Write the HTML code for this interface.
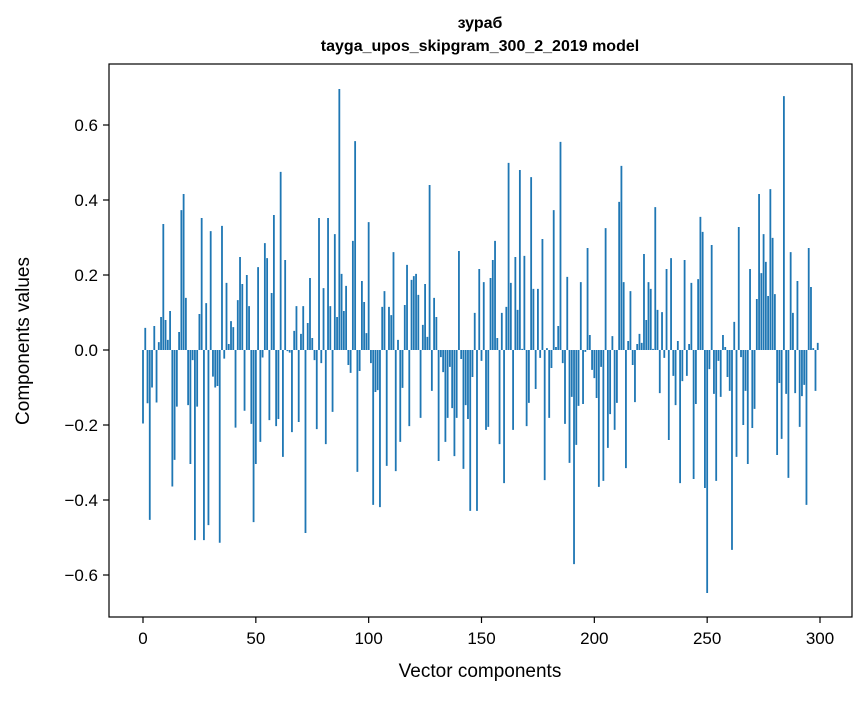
<!DOCTYPE html>
<html><head><meta charset="utf-8"><style>
body{margin:0;background:#fff;}
svg text{font-family:"Liberation Sans","DejaVu Sans",sans-serif;}
</style></head><body>
<svg id="chart" width="867" height="696" viewBox="0 0 867 696" xmlns="http://www.w3.org/2000/svg">
<rect width="867" height="696" fill="#fff"/>
<text x="480" y="28" text-anchor="middle" font-size="16" font-weight="bold">зураб</text>
<text x="480" y="51" text-anchor="middle" font-size="16" font-weight="bold">tayga_upos_skipgram_300_2_2019 model</text>
<g id="bars"></g>
<rect x="109" y="64" width="743" height="553" fill="none" stroke="#000" stroke-width="1.2"/>
<g id="xticks"></g>
<g id="yticks"></g>
<text x="480" y="677" text-anchor="middle" font-size="19">Vector components</text>
<text transform="translate(29,341) rotate(-90)" text-anchor="middle" font-size="19">Components values</text>
</svg>
<script>
const values = [
-0.196,0.059,-0.142,-0.453,-0.10,0.064,-0.14,0.021,0.088,0.336,
0.08,0.027,0.104,-0.364,-0.293,-0.151,0.048,0.373,0.416,0.139,
-0.147,-0.304,-0.027,-0.507,-0.151,0.096,0.352,-0.507,0.125,-0.467,
0.317,-0.071,-0.10,-0.096,-0.514,0.331,-0.023,0.179,0.016,0.077,
0.061,-0.207,0.133,0.248,0.176,-0.162,0.20,0.117,-0.197,-0.459,
-0.304,0.221,-0.245,-0.02,0.285,0.245,-0.187,0.152,0.36,-0.203,
-0.184,0.475,-0.285,0.24,-0.003,-0.007,-0.219,0.051,0.117,-0.192,
0.043,0.117,-0.488,0.072,0.192,0.032,-0.027,-0.211,0.352,-0.035,
0.165,-0.251,0.352,0.117,-0.165,0.309,0.088,0.696,0.203,0.104,
0.171,-0.04,-0.061,0.291,0.557,-0.325,-0.056,0.184,0.128,0.045,
0.341,-0.035,-0.413,-0.112,-0.107,-0.419,0.115,0.157,-0.309,0.115,
0.093,0.261,-0.323,0.027,-0.245,-0.101,0.12,0.227,-0.203,0.187,
0.197,0.203,0.147,-0.181,0.067,0.176,0.035,0.44,-0.109,0.139,
0.088,-0.296,-0.019,-0.059,-0.245,-0.181,-0.045,-0.155,-0.283,-0.181,
0.264,-0.024,-0.317,-0.147,-0.184,-0.429,-0.072,0.099,-0.429,0.216,
-0.029,0.181,-0.213,-0.205,0.192,0.24,0.291,0.032,-0.251,0.099,
-0.355,0.115,0.499,0.179,-0.213,0.248,0.107,0.48,0.003,0.251,
-0.203,-0.141,0.461,0.163,-0.104,0.163,-0.021,0.296,-0.347,0.005,
-0.181,-0.048,0.373,0.008,0.064,0.555,-0.035,-0.197,0.195,-0.301,
-0.125,-0.571,-0.253,-0.149,0.181,-0.144,-0.005,0.272,0.04,-0.053,
-0.075,-0.128,-0.365,-0.045,-0.349,0.325,-0.261,-0.171,0.037,-0.213,
-0.141,0.395,0.491,0.181,-0.315,0.024,0.157,-0.04,-0.139,0.016,
0.043,0.019,0.256,0.08,0.181,0.163,0.003,0.381,0.107,-0.115,
0.101,-0.021,0.216,-0.24,0.245,-0.069,-0.147,0.024,-0.355,-0.083,
0.24,-0.069,0.016,0.179,-0.344,-0.144,0.189,0.355,0.315,-0.368,
-0.648,-0.051,0.28,-0.117,-0.349,-0.029,-0.125,0.04,0.008,-0.072,
-0.109,-0.533,0.075,-0.285,0.328,-0.019,-0.2,-0.109,-0.304,0.216,
-0.208,-0.157,0.136,0.416,0.205,0.309,0.235,0.144,0.429,0.299,
0.149,-0.28,-0.088,-0.237,0.677,-0.117,-0.341,0.261,0.099,-0.115,
0.184,-0.205,-0.123,-0.093,-0.413,0.272,0.168,0.005,-0.109,0.019
];
const xTicks = [0,50,100,150,200,250,300];
const yTicks = [-0.6,-0.4,-0.2,0.0,0.2,0.4,0.6];
const yTickLabels = ["\u22120.6","\u22120.4","\u22120.2","0.0","0.2","0.4","0.6"];

const NS = "http://www.w3.org/2000/svg";
function xScale(i){ return 143 + i*(820-143)/300; }
function yScale(v){ return 350 - v*375; }

const bars = document.getElementById('bars');
const bw = 0.8*(820-143)/300;
values.forEach(function(v,i){
  const r = document.createElementNS(NS,'rect');
  
  
  const y0 = yScale(0), y1 = yScale(v);
  r.setAttribute('x', xScale(i)-bw/2);
  r.setAttribute('y', Math.min(y0,y1));
  r.setAttribute('width', bw);
  r.setAttribute('height', Math.abs(y1-y0));
  r.setAttribute('fill', '#1f77b4');
  bars.appendChild(r);
});

const xg = document.getElementById('xticks');
xTicks.forEach(function(t){
  const x = xScale(t);
  const l = document.createElementNS(NS,'line');
  
  
  l.setAttribute('x1',x); l.setAttribute('x2',x);
  l.setAttribute('y1',617); l.setAttribute('y2',623);
  l.setAttribute('stroke','#000'); l.setAttribute('stroke-width','1.2');
  xg.appendChild(l);
  const tx = document.createElementNS(NS,'text');
  
  
  tx.setAttribute('x',x); tx.setAttribute('y',644);
  tx.setAttribute('text-anchor','middle'); tx.setAttribute('font-size','17');
  tx.textContent = String(t);
  xg.appendChild(tx);
});

const yg = document.getElementById('yticks');
yTicks.forEach(function(t,k){
  const y = yScale(t);
  const l = document.createElementNS(NS,'line');
  
  
  l.setAttribute('x1',103); l.setAttribute('x2',109);
  l.setAttribute('y1',y); l.setAttribute('y2',y);
  l.setAttribute('stroke','#000'); l.setAttribute('stroke-width','1.2');
  yg.appendChild(l);
  const tx = document.createElementNS(NS,'text');
  
  
  tx.setAttribute('x',98); tx.setAttribute('y',y+6);
  tx.setAttribute('text-anchor','end'); tx.setAttribute('font-size','17');
  tx.textContent = yTickLabels[k];
  yg.appendChild(tx);
});
</script>
</body></html>
